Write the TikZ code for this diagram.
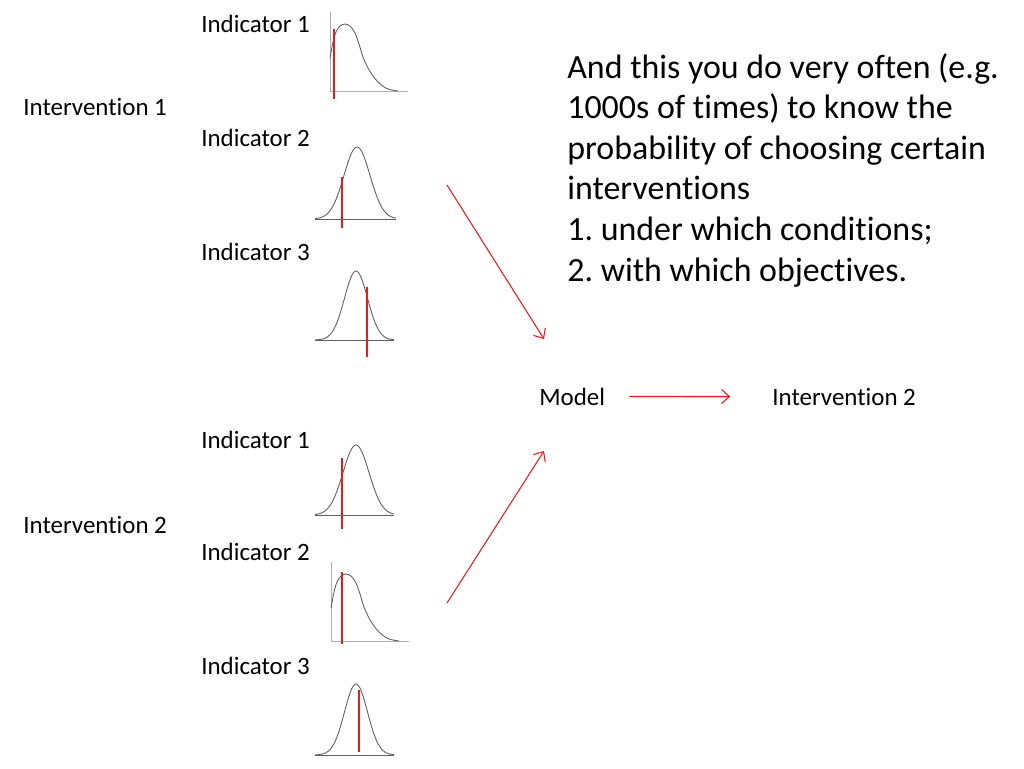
\documentclass[tikz,border=0pt]{standalone}
\usepackage{fontspec}
\setmainfont[Ligatures=NoCommon]{Carlito}
\frenchspacing
\usetikzlibrary{arrows.meta}
\definecolor{curveGrey}{RGB}{95,95,95}
\definecolor{axisGrey}{RGB}{175,175,175}
\definecolor{obsRed}{RGB}{235,25,25}

% bell curve: centre, base, height, sigma, from, to
\newcommand{\bellcurve}[6]{%
  \draw[curve] (#5,#2) -- (#6,#2);
  \draw[curve] plot[domain=#5:#6, samples=61, smooth]
    (\x, {#2-#3*exp(-((\x-#1)*(\x-#1))/(2*#4*#4))});
}
% skewed curve with its axes, shifted by (#1,#2)
\newcommand{\skewcurve}[2]{%
  \begin{scope}[shift={(#1,#2)}]
    \draw[axis] (330,12) -- (330,91) -- (408,91);
    \draw[curve] plot[smooth] coordinates {(330,58) (333,42) (336,32) (340,26)
      (345,24) (350,26) (355,33) (359,44) (363,57) (368,68) (373,76) (378,82)
      (384,87) (390,89.6) (398,91)};
  \end{scope}
}

\begin{document}
\begin{tikzpicture}[x=0.02cm, y=-0.02cm,
    lbl/.style={font=\fontsize{14.2}{17}\selectfont, inner sep=0pt, anchor=base west},
    big/.style={font=\fontsize{19.3}{23.1}\selectfont, inner sep=0pt, anchor=north west,
                align=left},
    curve/.style={curveGrey, line width=0.5pt},
    axis/.style={axisGrey, line width=0.4pt},
    obs/.style={obsRed, line width=1pt},
    arr/.style={-{Straight Barb[length=4.5pt,width=8pt]}, obsRed, line width=0.6pt}
  ]
  \useasboundingbox (0,0) rectangle (1024,768);

  % labels
  \node[lbl] (ind11) at (201,32)  {Indicator 1};
  \node[lbl] (int1)  at (23,115)  {Intervention 1};
  \node[lbl] (ind12) at (201,146) {Indicator 2};
  \node[lbl] (ind13) at (201,260) {Indicator 3};
  \node[lbl] (ind21) at (201,448) {Indicator 1};
  \node[lbl] (int2)  at (23,533)  {Intervention 2};
  \node[lbl] (ind22) at (201,560) {Indicator 2};
  \node[lbl] (ind23) at (201,674) {Indicator 3};
  \node[lbl] (model)  at (539,405) {Model};
  \node[lbl] (choice) at (772,405) {Intervention 2};

  \node[big] (note) at (567,53) {And this you do very often (e.g.\\
    1000s of times) to know the\\
    probability of choosing certain\\
    interventions\\
    1. under which conditions;\\
    2. with which objectives.};

  % distributions
  \skewcurve{0}{0}
  \draw[obs] (334,29) -- (334,99);
  \bellcurve{357}{219}{72}{13}{315}{396}
  \draw[obs] (342,177) -- (342,228);
  \bellcurve{356}{340}{69}{11.5}{315}{394}
  \draw[obs] (367,287) -- (367,357);

  \bellcurve{356}{515}{70}{13}{315}{394}
  \draw[obs] (342,458) -- (342,529);
  \skewcurve{1}{550}
  \draw[obs] (342,572) -- (342,644);
  \bellcurve{356}{755}{71}{11.5}{315}{394}
  \draw[obs] (359,690) -- (359,752);

  % connectors
  \coordinate (upstart) at (447,185);
  \coordinate (upend)   at (544,339);
  \coordinate (lowstart) at (447,603);
  \coordinate (lowend)   at (544,451);
  \draw[arr] (upstart) -- (upend);
  \draw[arr] (lowstart) -- (lowend);
  \draw[arr, shorten <=13.6pt, shorten >=23.8pt] (model.east) -- (choice.west);
\end{tikzpicture}
\end{document}
